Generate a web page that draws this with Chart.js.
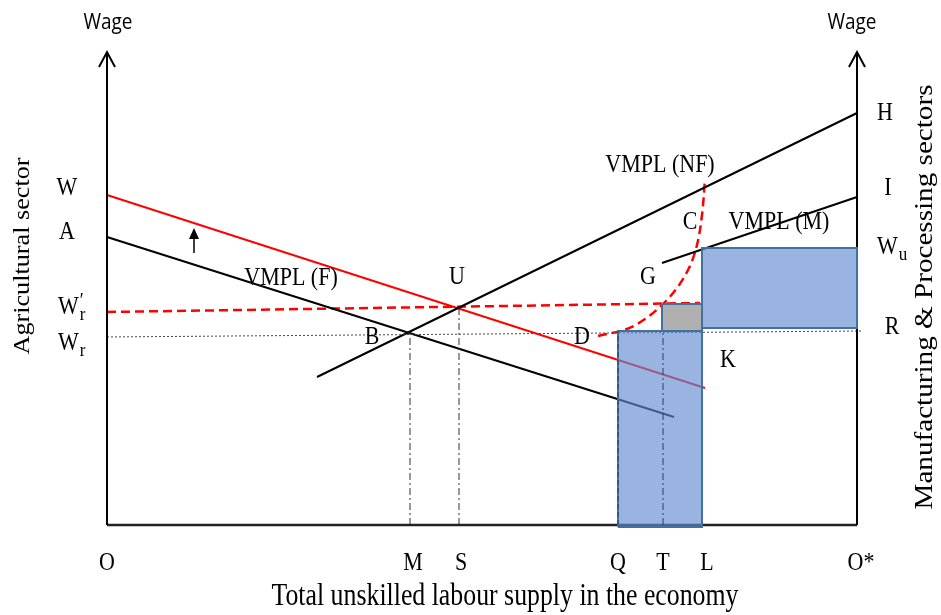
<!doctype html>
<html>
<head>
<meta charset="utf-8">
<title>Dual labour market diagram</title>
<style>
  body { margin: 0; background: #fff; }
  #wrap { width: 941px; height: 615px; }
</style>
</head>
<body>
<div id="wrap"><canvas id="chart" width="941" height="615"></canvas></div>
<script src="https://cdn.jsdelivr.net/npm/chart.js"></script>
<script>
// x = labour, O at 0 and O* at 750; y = wage, 0 on the bottom axis
const xTickLabels = ['O', 'M', 'S', 'Q', 'T', 'L', 'O*'];
const xTickValues = [0, 303, 352, 511, 556, 595, 750];
const xLabelShift = [0, 3, 2, 0, 0, 5, 4];
const axisTop = 473;

// wage levels read on the two wage axes
const leftWage = { W: 330, A: 288, WrPrime: 218, Wr: 182 };
const rightWage = { H: 412, I: 337, Wu: 278, R: 198 };

// curves
const vmplF = [[0, 288], [567, 108]];
const vmplFShifted = [[0, 330], [598, 137]];
const supplyLine = [[210, 148], [750, 412]];
const vmplM = [[555, 262], [750, 328]];
const vmplNF = [[491, 189], [520, 196], [538, 206], [555, 220], [570, 237], [582, 257], [590, 280], [595, 310], [598, 346]];
const wageR = [[0, 188], [755, 194]];
const wageRPrime = [[0, 213], [593, 222]];

// drop lines to the labour axis
const dropM = [[303, 0], [303, 192]];
const dropS = [[352, 0], [352, 217]];
const dropT = [[556, 0], [556, 194]];
const dropQ = [[511, 0], [511, 194]];

// shaded boxes: [x0, x1, y0, y1]
const urbanBox = [595, 750, 197, 277];
const ruralBox = [511, 595, -2, 194];
const greyBox = [555, 595, 194, 221];

const pts = arr => arr.map(p => ({ x: p[0], y: p[1] }));
const boxTop = b => [{ x: b[0], y: b[3] }, { x: b[1], y: b[3] }];
const boxEdge = b => [{ x: b[0], y: b[2] }, { x: b[0], y: b[3] }, { x: b[1], y: b[3] }, { x: b[1], y: b[2] }, { x: b[0], y: b[2] }];

function line(data, color, width, dash, order) {
  return { data: data, borderColor: color, borderWidth: width, borderDash: dash || [],
           pointRadius: 0, fill: false, order: order === undefined ? 3 : order };
}
function boxFill(b, color) {
  return { data: boxTop(b), borderWidth: 0, pointRadius: 0, backgroundColor: color,
           fill: { value: b[2] }, order: 1 };
}

const blueFill = 'rgba(100,140,210,0.65)';
const blueEdge = '#41719c';

const datasets = [
  // axes
  line(pts([[0, 0], [0, axisTop]]), '#000', 2),
  line(pts([[750, 0], [750, axisTop]]), '#000', 2),
  line(pts([[0, 0], [750, 0]]), '#222', 2.5),
  line(pts([[-8, axisTop - 15], [0, axisTop], [8, axisTop - 15]]), '#000', 2),
  line(pts([[742, axisTop - 15], [750, axisTop], [758, axisTop - 15]]), '#000', 2),
  // curves
  line(pts(wageR), '#444', 1, [2, 2]),
  line(pts(dropM), '#333', 1, [7, 3, 2, 3]),
  line(pts(dropS), '#333', 1, [7, 3, 2, 3]),
  line(pts(vmplF), '#000', 2),
  line(pts(supplyLine), '#000', 2),
  line(pts(vmplM), '#000', 2),
  line(pts(vmplFShifted), '#ff0000', 2),
  line(pts(wageRPrime), '#ff0000', 2.5, [9, 5]),
  Object.assign(line(pts(vmplNF), '#ff0000', 2.5, [9, 5]), { tension: 0.35 }),
  // small arrow showing the upward shift
  line(pts([[87, 272], [87, 288]]), '#000', 1.5),
  { data: pts([[82, 286], [87, 297], [92, 286]]), borderWidth: 0, pointRadius: 0,
    backgroundColor: '#000', fill: { value: 286 }, order: 3 },
  // boxes
  boxFill(urbanBox, blueFill),
  boxFill(ruralBox, blueFill),
  boxFill(greyBox, 'rgba(150,150,150,0.75)'),
  line(pts(dropQ), '#27406b', 1, [5, 3], 0),
  line(pts(dropT), '#27406b', 1, [7, 3, 2, 3], 0),
  line(boxEdge(urbanBox), blueEdge, 2, [], 0),
  line(boxEdge(ruralBox), blueEdge, 2, [], 0),
  line(boxEdge(greyBox), blueEdge, 2, [], 0)
];

const serif = s => s + 'px "Liberation Serif", "Times New Roman", serif';
const sans = s => s + 'px "Open Sans", "Noto Sans", sans-serif';

const labels = [
  { t: 'Wage', x: 1, y: 502, f: sans(19), st: 1.15 },
  { t: 'Wage', x: 745, y: 502, f: sans(19), st: 1.15 },
  { t: 'W', x: -40, y: leftWage.W + 7 },
  { t: 'A', x: -40, y: leftWage.A + 5 },
  { t: 'W', x: -49, y: leftWage.WrPrime, sub: 'r', prime: true, left: true },
  { t: 'W', x: -49, y: leftWage.Wr, sub: 'r', left: true },
  { t: 'H', x: 778, y: rightWage.H },
  { t: 'I', x: 781, y: rightWage.I },
  { t: 'W', x: 770, y: rightWage.Wu, sub: 'u', left: true },
  { t: 'R', x: 785, y: rightWage.R },
  { t: 'K', x: 621, y: 165 },
  { t: 'VMPL (F)', x: 184, y: 247 },
  { t: 'U', x: 350, y: 248 },
  { t: 'B', x: 265, y: 188 },
  { t: 'D', x: 475, y: 188 },
  { t: 'G', x: 541, y: 248 },
  { t: 'C', x: 583, y: 303 },
  { t: 'VMPL (NF)', x: 553, y: 360 },
  { t: 'VMPL (M)', x: 672, y: 303 },
  { t: 'Total unskilled labour supply in the economy', x: 398, y: -72, f: serif(28), fit: 467 },
  { t: 'Agricultural sector', x: -84, y: 269, f: serif(24), fit: 197, rot: true },
  { t: 'Manufacturing & Processing sectors', x: 818, y: 228, f: serif(26), fit: 425, rot: true }
];
xTickLabels.forEach((t, i) => labels.push({ t: t, x: xTickValues[i] + xLabelShift[i], y: -38 }));

const labelPlugin = {
  id: 'diagramLabels',
  afterDatasetsDraw(chart) {
    const ctx = chart.ctx;
    const sx = chart.scales.x, sy = chart.scales.y;
    labels.forEach(l => {
      ctx.save();
      ctx.translate(sx.getPixelForValue(l.x), sy.getPixelForValue(l.y));
      ctx.fillStyle = '#000';
      ctx.font = l.f || serif(22);
      ctx.textBaseline = 'middle';
      ctx.textAlign = l.left ? 'left' : 'center';
      if (l.rot) ctx.rotate(-Math.PI / 2);
      const w = ctx.measureText(l.t).width;
      if (l.fit) ctx.scale(l.fit / w, l.rot ? 1 : 1.15);
      else ctx.scale(1, l.st || 1.15);
      ctx.fillText(l.t, 0, 0);
      if (l.sub) {
        ctx.font = serif(17);
        ctx.fillText(l.sub, w + 1, 7);
      }
      if (l.prime) {
        ctx.font = serif(18);
        ctx.fillText('\u2032', w + 1, -5);
      }
      ctx.restore();
    });
  }
};

new Chart(document.getElementById('chart'), {
  type: 'line',
  data: { datasets: datasets },
  options: {
    responsive: false,
    animation: false,
    layout: { padding: 0 },
    plugins: { legend: { display: false }, tooltip: { enabled: false } },
    scales: {
      x: { type: 'linear', min: -107, max: 834, display: false },
      y: { type: 'linear', min: -90, max: 525, display: false }
    }
  },
  plugins: [labelPlugin]
});
</script>
</body>
</html>
